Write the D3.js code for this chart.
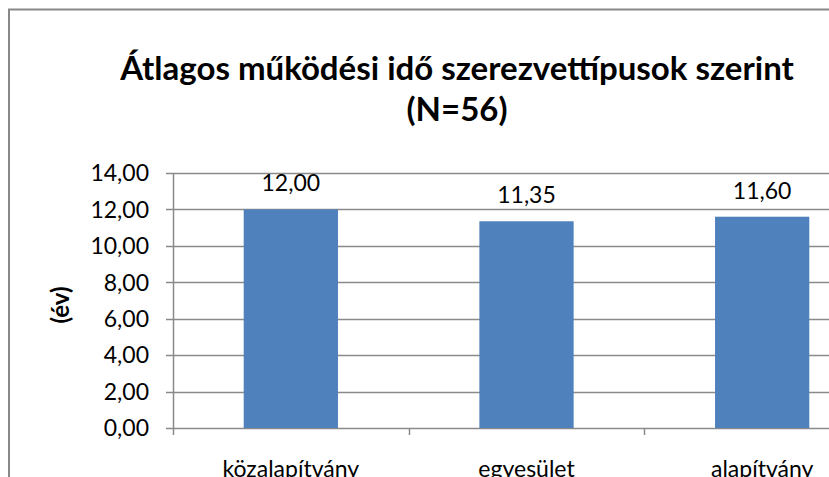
<!DOCTYPE html>
<html>
<head>
<meta charset="utf-8">
<script src="https://cdn.jsdelivr.net/npm/d3@7"></script>
<style>
  body { margin: 0; background: #fff; }
  svg { display: block; font-family: Lato, "Open Sans", sans-serif; }
</style>
</head>
<body>
<div id="chart"></div>
<script>
// Data
var categories = ["közalapítvány", "egyesület", "alapítvány"];
var values = [12.0, 11.35, 11.6];
var yTicks = [0, 2, 4, 6, 8, 10, 12, 14];
var titleLines = ["Átlagos működési idő szerezvettípusok szerint", "(N=56)"];
var yLabel = "(év)";

var w = 829;
var h = 477;

var svg = d3.select("#chart")
  .append("svg")
  .attr("width", w)
  .attr("height", h);

svg.append("rect")
  .attr("width", w)
  .attr("height", h)
  .attr("fill", "#fff");

// chart border (runs off the right and bottom edges)
svg.append("rect")
  .attr("x", 9)
  .attr("y", 9.5)
  .attr("width", 900)
  .attr("height", 600)
  .attr("fill", "none")
  .attr("stroke", "#888")
  .attr("stroke-width", 2);

var plotLeft = 173;
var plotRight = 880;
var plotTop = 173;
var plotBottom = 428;

var xScale = d3.scaleBand()
  .domain(categories)
  .range([plotLeft, plotRight])
  .paddingInner(0.6)
  .paddingOuter(0.3);

var yScale = d3.scaleLinear()
  .domain([0, 14])
  .range([plotBottom, plotTop]);

var fmt = function (d) { return d3.format(".2f")(d).replace(".", ","); };

// gridlines
svg.append("g")
  .selectAll("line")
  .data(yTicks)
  .enter()
  .append("line")
  .attr("x1", plotLeft - 7)
  .attr("x2", plotRight)
  .attr("y1", function (d) { return Math.round(yScale(d)) + 0.5; })
  .attr("y2", function (d) { return Math.round(yScale(d)) + 0.5; })
  .attr("stroke", "#8a8a8a")
  .attr("stroke-width", 1.5);

// y axis line
svg.append("line")
  .attr("x1", plotLeft + 0.5)
  .attr("x2", plotLeft + 0.5)
  .attr("y1", plotTop)
  .attr("y2", plotBottom)
  .attr("stroke", "#8a8a8a")
  .attr("stroke-width", 1.5);

// category boundary ticks
var step = xScale.step();
var bounds = categories.map(function (c) {
  return xScale(c) - xScale.paddingInner() * step / 2;
});
svg.append("g")
  .selectAll("line")
  .data(bounds)
  .enter()
  .append("line")
  .attr("x1", function (d) { return Math.round(d) + 0.5; })
  .attr("x2", function (d) { return Math.round(d) + 0.5; })
  .attr("y1", plotBottom)
  .attr("y2", plotBottom + 7)
  .attr("stroke", "#8a8a8a")
  .attr("stroke-width", 1.5);

// bars
svg.append("g")
  .selectAll("rect")
  .data(values)
  .enter()
  .append("rect")
  .attr("x", function (d, i) { return xScale(categories[i]); })
  .attr("y", function (d) { return yScale(d); })
  .attr("width", xScale.bandwidth())
  .attr("height", function (d) { return plotBottom - yScale(d); })
  .attr("fill", "#4f81bd");

// value labels
svg.append("g")
  .selectAll("text")
  .data(values)
  .enter()
  .append("text")
  .attr("x", function (d, i) { return xScale(categories[i]) + xScale.bandwidth() / 2; })
  .attr("y", function (d) { return yScale(d) - 18; })
  .attr("text-anchor", "middle")
  .style("font-size", "23px")
  .attr("fill", "#000")
  .text(fmt);

// y tick labels
svg.append("g")
  .selectAll("text")
  .data(yTicks)
  .enter()
  .append("text")
  .attr("x", plotLeft - 24)
  .attr("y", function (d) { return yScale(d); })
  .attr("dy", "0.36em")
  .attr("text-anchor", "end")
  .style("font-size", "23px")
  .text(fmt);

// category labels (cut by the bottom edge, as in the source image)
svg.append("g")
  .selectAll("text")
  .data(categories)
  .enter()
  .append("text")
  .attr("x", function (d) { return xScale(d) + xScale.bandwidth() / 2; })
  .attr("y", 477)
  .attr("text-anchor", "middle")
  .style("font-size", "23px")
  .text(function (d) { return d; });

// y axis title
svg.append("text")
  .attr("transform", "translate(60,305) rotate(-90)")
  .attr("dy", "0.36em")
  .attr("text-anchor", "middle")
  .style("font-size", "24px")
  .style("font-weight", "bold")
  .text(yLabel);

// chart title
svg.append("g")
  .selectAll("text")
  .data(titleLines)
  .enter()
  .append("text")
  .attr("x", 457)
  .attr("y", function (d, i) { return 80 + i * 41; })
  .attr("text-anchor", "middle")
  .style("font-size", "33px")
  .style("font-weight", "bold")
  .text(function (d) { return d; });
</script>
</body>
</html>
